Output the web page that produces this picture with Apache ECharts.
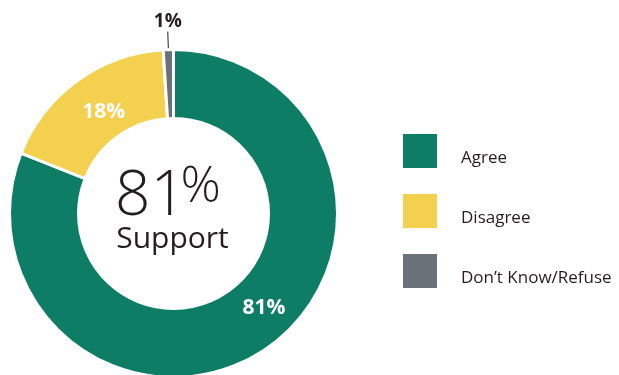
<!DOCTYPE html>
<html>
<head>
<meta charset="utf-8">
<style>
  html, body { margin: 0; padding: 0; background: #ffffff; }
  #chart { width: 619px; height: 375px; }
</style>
<script src="https://cdn.jsdelivr.net/npm/echarts@6/dist/echarts.min.js"></script>
</head>
<body>
<div id="chart"></div>
<script>
// Survey responses
const categories = ['Agree', 'Disagree', 'Don\u2019t Know/Refuse'];
const values = [81, 18, 1];
const colors = ['#0d7d66', '#f4d04f', '#6b7179'];
const headlineLabel = 'Support';

const TEXT_DARK = '#231f20';
const FONT = '"Open Sans", "Noto Sans", sans-serif';

const chart = echarts.init(document.getElementById('chart'), null, { renderer: 'canvas' });

const data = categories.map((name, i) => {
  const item = { name, value: values[i], itemStyle: { color: colors[i] } };
  if (i === 2) {
    // tiny slice: label sits outside with a short leader line
    item.label = {
      position: 'outside',
      color: TEXT_DARK,
      fontSize: 19,
      distanceToLabelLine: 0
    };
    item.labelLine = {
      show: true,
      length: 18,
      length2: 0,
      lineStyle: { color: TEXT_DARK, width: 1 }
    };
  }
  return item;
});

// label nudges per slice (pixels)
const labelShift = [[16, -15], [8, 6], [0, 0]];

const cx = 173.5, cy = 213.5;

chart.setOption({
  animation: false,
  legend: {
    orient: 'vertical',
    left: 401,
    top: 132,
    padding: 0,
    itemWidth: 36,
    itemHeight: 36,
    itemGap: 22,
    icon: 'rect',
    selectedMode: false,
    data: categories,
    formatter: '{t|{name}}',
    textStyle: {
      color: TEXT_DARK,
      fontFamily: FONT,
      fontSize: 17,
      rich: {
        t: {
          color: TEXT_DARK,
          fontFamily: FONT,
          fontSize: 17,
          padding: [14, 0, 0, 18]
        }
      }
    }
  },
  graphic: [
    {
      type: 'text',
      x: cx - 23,
      y: 197,
      style: {
        text: String(values[0]),
        fontFamily: FONT,
        fontSize: 62,
        fontWeight: 300,
        fill: TEXT_DARK,
        align: 'center',
        verticalAlign: 'middle'
      }
    },
    {
      type: 'text',
      x: cx + 7,
      y: 188,
      style: {
        text: '%',
        fontFamily: FONT,
        fontSize: 50,
        fontWeight: 300,
        fill: TEXT_DARK,
        align: 'left',
        verticalAlign: 'middle'
      }
    },
    {
      type: 'text',
      x: cx - 1,
      y: 239,
      style: {
        text: headlineLabel,
        fontFamily: FONT,
        fontSize: 30,
        fontWeight: 400,
        fill: TEXT_DARK,
        align: 'center',
        verticalAlign: 'middle'
      }
    }
  ],
  series: [
    {
      type: 'pie',
      center: [cx, cy],
      radius: [95, 164],
      startAngle: 90,
      clockwise: true,
      avoidLabelOverlap: false,
      itemStyle: { borderColor: '#ffffff', borderWidth: 3 },
      label: {
        show: true,
        position: 'inside',
        formatter: '{c}%',
        color: '#ffffff',
        fontFamily: FONT,
        fontWeight: 'bold',
        fontSize: 21
      },
      labelLine: { show: false },
      labelLayout: function (params) {
        const s = labelShift[params.dataIndex];
        if (params.dataIndex === 2) {
          return { align: 'center', verticalAlign: 'bottom' };
        }
        return { dx: s[0], dy: s[1] };
      },
      emphasis: { disabled: true },
      data: data
    }
  ]
});
</script>
</body>
</html>
